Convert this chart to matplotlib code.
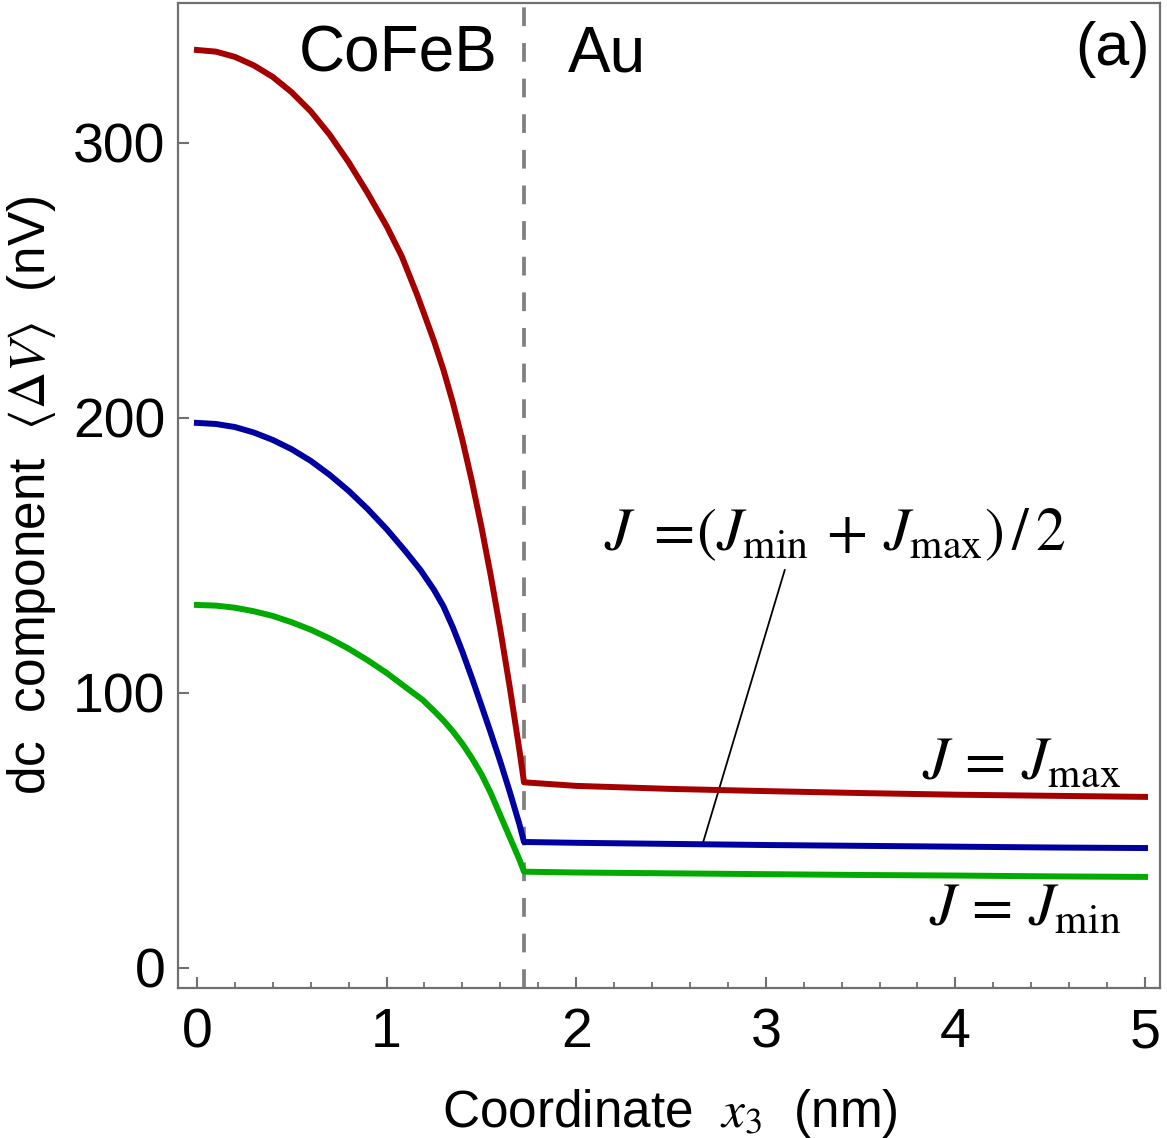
import matplotlib
matplotlib.use("Agg")
import matplotlib.pyplot as plt
import numpy as np

plt.rcParams['font.family'] = ['Liberation Sans', 'DejaVu Sans']
plt.rcParams['mathtext.fontset'] = 'stix'

# ---- data ----
interface_x = 1.725

x_red = [0, 0.1, 0.2, 0.3, 0.4, 0.5, 0.6, 0.7, 0.8, 0.9, 1.0, 1.08, 1.16,
         1.2, 1.25, 1.3, 1.35, 1.4, 1.45, 1.5, 1.55, 1.6, 1.65, 1.7, 1.725,
         2.0, 2.5, 3.0, 3.5, 4.0, 4.5, 5.0]
y_red = [333.8, 333.2, 331.3, 328.2, 324.0, 318.4, 311.5, 303.0, 293.0, 281.8, 269.8, 258.8, 245.0,
         237.5, 228.0, 217.5, 205.5, 192.0, 177.0, 160.5, 142.5, 123.0, 102.0, 79.5, 67.5,
         66.2, 65.1, 64.3, 63.6, 63.0, 62.6, 62.2]

x_blue = [0, 0.1, 0.2, 0.3, 0.4, 0.5, 0.6, 0.7, 0.8, 0.9, 1.0, 1.1, 1.18,
          1.25, 1.3, 1.35, 1.4, 1.45, 1.5, 1.55, 1.6, 1.65, 1.7, 1.725,
          2.0, 2.5, 3.0, 3.5, 4.0, 4.5, 5.0]
y_blue = [198.2, 197.8, 196.7, 194.7, 192.0, 188.6, 184.4, 179.3, 173.5, 166.9, 159.6, 151.5, 144.6,
          137.5, 131.5, 123.8, 115.0, 105.5, 95.5, 85.4, 75.0, 64.0, 52.4, 45.8,
          45.5, 45.1, 44.7, 44.4, 44.1, 43.8, 43.6]

x_green = [0, 0.1, 0.2, 0.3, 0.4, 0.5, 0.6, 0.7, 0.8, 0.9, 1.0, 1.1, 1.19,
           1.25, 1.3, 1.35, 1.4, 1.45, 1.5, 1.55, 1.6, 1.65, 1.7, 1.725,
           2.0, 2.5, 3.0, 3.5, 4.0, 4.5, 5.0]
y_green = [132.0, 131.75, 131.0, 129.7, 128.0, 125.7, 123.0, 119.8, 116.1, 111.9, 107.3, 102.1, 97.5,
           93.5, 90.0, 86.0, 81.5, 76.3, 70.5, 63.5, 55.5, 47.5, 39.5, 35.0,
           34.7, 34.4, 34.1, 33.8, 33.6, 33.3, 33.1]

x_ticks = [0, 1, 2, 3, 4, 5]
y_ticks = [0, 100, 200, 300]

# ---- figure ----
fig = plt.figure(figsize=(11.67, 11.38), dpi=100)
ax = fig.add_axes([0.1525, 0.1318, 0.8415, 0.8656])

lw = 4.3
ax.axvline(interface_x, color='#808080', lw=2.7, ls=(0, (5, 4.5)), zorder=1)
ax.plot(x_red, y_red, color='#A50000', lw=lw, solid_joinstyle='round', zorder=3)
ax.plot(x_blue, y_blue, color='#0000A0', lw=lw, solid_joinstyle='round', zorder=3)
ax.plot(x_green, y_green, color='#00AA00', lw=lw, solid_joinstyle='round', zorder=3)

ax.set_xlim(-0.100, 5.079)
ax.set_ylim(-7.3, 350.9)

ax.set_xticks(x_ticks)
ax.set_yticks(y_ticks)
ax.set_xticks(np.arange(0, 5.01, 0.2), minor=True)
ax.tick_params(axis='both', which='major', direction='in', length=8, width=1.5,
               color='#707070', labelsize=40)
ax.tick_params(axis='x', which='minor', direction='in', length=4.5, width=1.3, color='#707070')
ax.tick_params(axis='x', which='major', pad=14)
ax.tick_params(axis='y', which='major', pad=9)
for s in ax.spines.values():
    s.set_color('#707070')
    s.set_linewidth(1.6)

ax.set_xlabel(r'Coordinate  $x_3$  (nm)', fontsize=37)
ax.set_ylabel(r'dc  component  $\langle \Delta V\rangle$  (nV)', fontsize=37)
ax.xaxis.set_label_coords(0.501, -0.100)
ax.yaxis.set_label_coords(-0.122, 0.5)

ax.text(1.06, 332, 'CoFeB', fontsize=46, ha='center', va='center')
ax.text(2.16, 332, 'Au', fontsize=46, ha='center', va='center')
ax.text(4.83, 334, '(a)', fontsize=44, ha='center', va='center')

ax.text(3.365, 157.5, r'$J\ =\!(J_{\min}\,+\,J_{\max})\,/\,2$', fontsize=43, ha='center', va='center')
ax.plot([3.10, 2.67], [144.7, 45.8], color='black', lw=1.3, zorder=2)
ax.text(4.35, 74.5, r'$J\,=\,J_{\max}$', fontsize=43, ha='center', va='center')
ax.text(4.37, 21, r'$J\,=\,J_{\min}$', fontsize=43, ha='center', va='center')

fig.savefig('out.png', dpi=100)
